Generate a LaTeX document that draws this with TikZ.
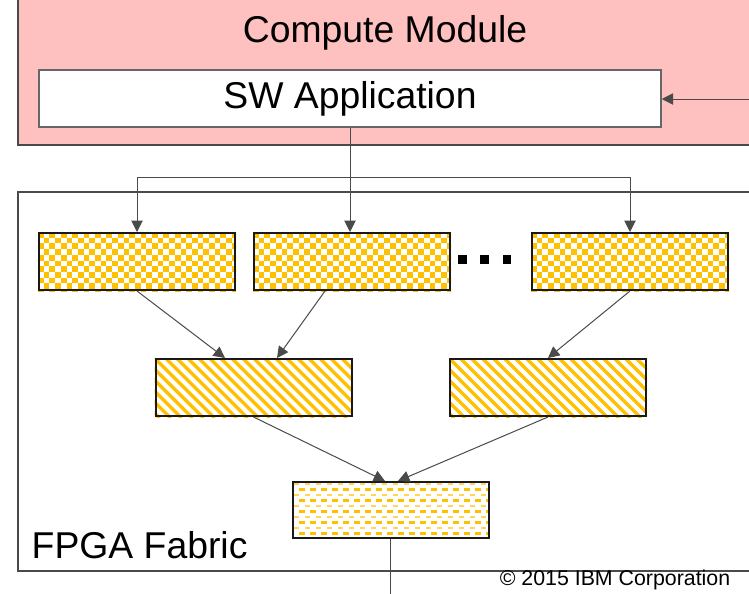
\documentclass[tikz,border=0pt]{standalone}
\usepackage{fontspec}
\setmainfont{Liberation Sans}
\usetikzlibrary{arrows.meta,backgrounds}
\newdimen\px
\px=0.75pt
\definecolor{pinkfill}{HTML}{FFC0C0}
\definecolor{gold}{HTML}{FFC000}
\definecolor{lightgold}{HTML}{FFD55A}
\definecolor{frame}{HTML}{4A4A4A}
\pgfdeclarelayer{pat}
\pgfsetlayers{background,pat,main}
\tikzset{
  big/.style={font=\fontsize{28}{32}\selectfont},
  small/.style={font=\fontsize{16}{19}\selectfont},
  unit/.style={draw=black!90, line width=2\px, minimum width=196\px, minimum height=57\px, inner sep=0pt},
  swbox/.style={draw=black!60, line width=1.5\px, fill=white, minimum width=622\px, minimum height=57\px, inner sep=0pt},
  conn/.style={draw=frame, line width=1\px, -{Triangle[length=8.5pt,width=8.5pt]}},
  sqdot/.style={fill=black, minimum size=8.5\px, inner sep=0pt},
}
\begin{document}
\begin{tikzpicture}[x=0.75pt,y=-0.75pt]
\useasboundingbox (0,0) rectangle (749,593);
\clip (0,0) rectangle (749,593);

% host side and FPGA frames
\begin{pgfonlayer}{background}
  \fill[pinkfill] (18,-5) rectangle (760,145);
  \draw[frame, line width=1.5\px] (18,-5) -- (18,145) -- (760,145);
  \draw[frame, line width=1.2\px] (760,192) -- (18,192) -- (18,571) -- (760,571);
\end{pgfonlayer}

\node[big] (title) at (385,33) {Compute Module};
\node[swbox, big] (sw) at (350,98.5) {SW Application};

% first stage
\node[unit] (b1) at (137,261.5) {};
\node[unit] (b2) at (352,261.5) {};
\node[unit] (b3) at (630,261.5) {};
\node[sqdot] (d1) at (462.5,259.5) {};
\node[sqdot] (d2) at (484.5,259.5) {};
\node[sqdot] (d3) at (507,259.5) {};

% second stage
\node[unit] (b4) at (253.5,387.5) {};
\node[unit] (b5) at (548,387.5) {};

% last stage
\node[unit, minimum height=56\px] (b6) at (390.5,510) {};

\node[big, anchor=west] (fabric) at (27,545) {FPGA Fabric};
\node[small] (copy) at (615,580) {© 2015 IBM Corporation};

% fills
\begin{pgfonlayer}{pat}
  % checkerboard
  \foreach \b in {b1,b2,b3}{
    \begin{scope}
      \clip (\b.north west) rectangle (\b.south east);
      \foreach \j in {0,...,10}{
        \pgfmathtruncatemacro\ph{mod(\j,2)}
        \draw[gold, line width=5.7\px, dash pattern=on 5.7\px off 5.7\px, dash phase=\ph*5.7\px]
          ([yshift=-\j*5.7\px-2.85\px]\b.north west) -- ([yshift=-\j*5.7\px-2.85\px,xshift=5\px]\b.north east);
      }
    \end{scope}
  }
  % diagonal stripes
  \foreach \b in {b4,b5}{
    \begin{scope}
      \clip (\b.north west) rectangle (\b.south east);
      \foreach \k in {-6,...,19}{
        \draw[gold, line width=3.4\px]
          ([xshift=\k*11\px]\b.north west) -- ([xshift=\k*11\px+60\px,yshift=-60\px]\b.north west);
      }
    \end{scope}
  }
  % dashed rows
  \begin{scope}
    \clip (b6.north west) rectangle (b6.south east);
    \foreach \j in {0,...,9}{
      \pgfmathtruncatemacro\ph{mod(\j,2)}
      \ifnum\ph=0 \def\rc{lightgold}\else\def\rc{gold}\fi
      \draw[\rc, line width=2.2\px, dash pattern=on 5.5\px off 5.5\px, dash phase=\ph*5.5\px-2\px]
        ([yshift=-\j*5.5\px-3\px]b6.north west) -- ([yshift=-\j*5.5\px-3\px]b6.north east);
    }
  \end{scope}
\end{pgfonlayer}

% connectors
\coordinate (feed) at (749,99);
\coordinate (fork) at (350,177);
\coordinate (out) at (390.5,600);
\draw[conn] (feed) -- (sw.east |- feed);
\draw[conn] (sw.south) -- (sw.south |- b2.north);
\draw[conn] (fork) -| (b1.north);
\draw[conn] (fork) -| (b3.north);
\draw[conn] (b1.south) -- ([xshift=-28.5\px]b4.north);
\draw[conn] ([xshift=-27\px]b2.south) -- ([xshift=23.5\px]b4.north);
\draw[conn] (b3.south) -- (b5.north);
\draw[conn] (b4.south) -- ([xshift=-5.5\px]b6.north);
\draw[conn] (b5.south) -- ([xshift=7.5\px]b6.north);
\draw[draw=frame, line width=1\px] (b6.south) -- (out);
\end{tikzpicture}
\end{document}
